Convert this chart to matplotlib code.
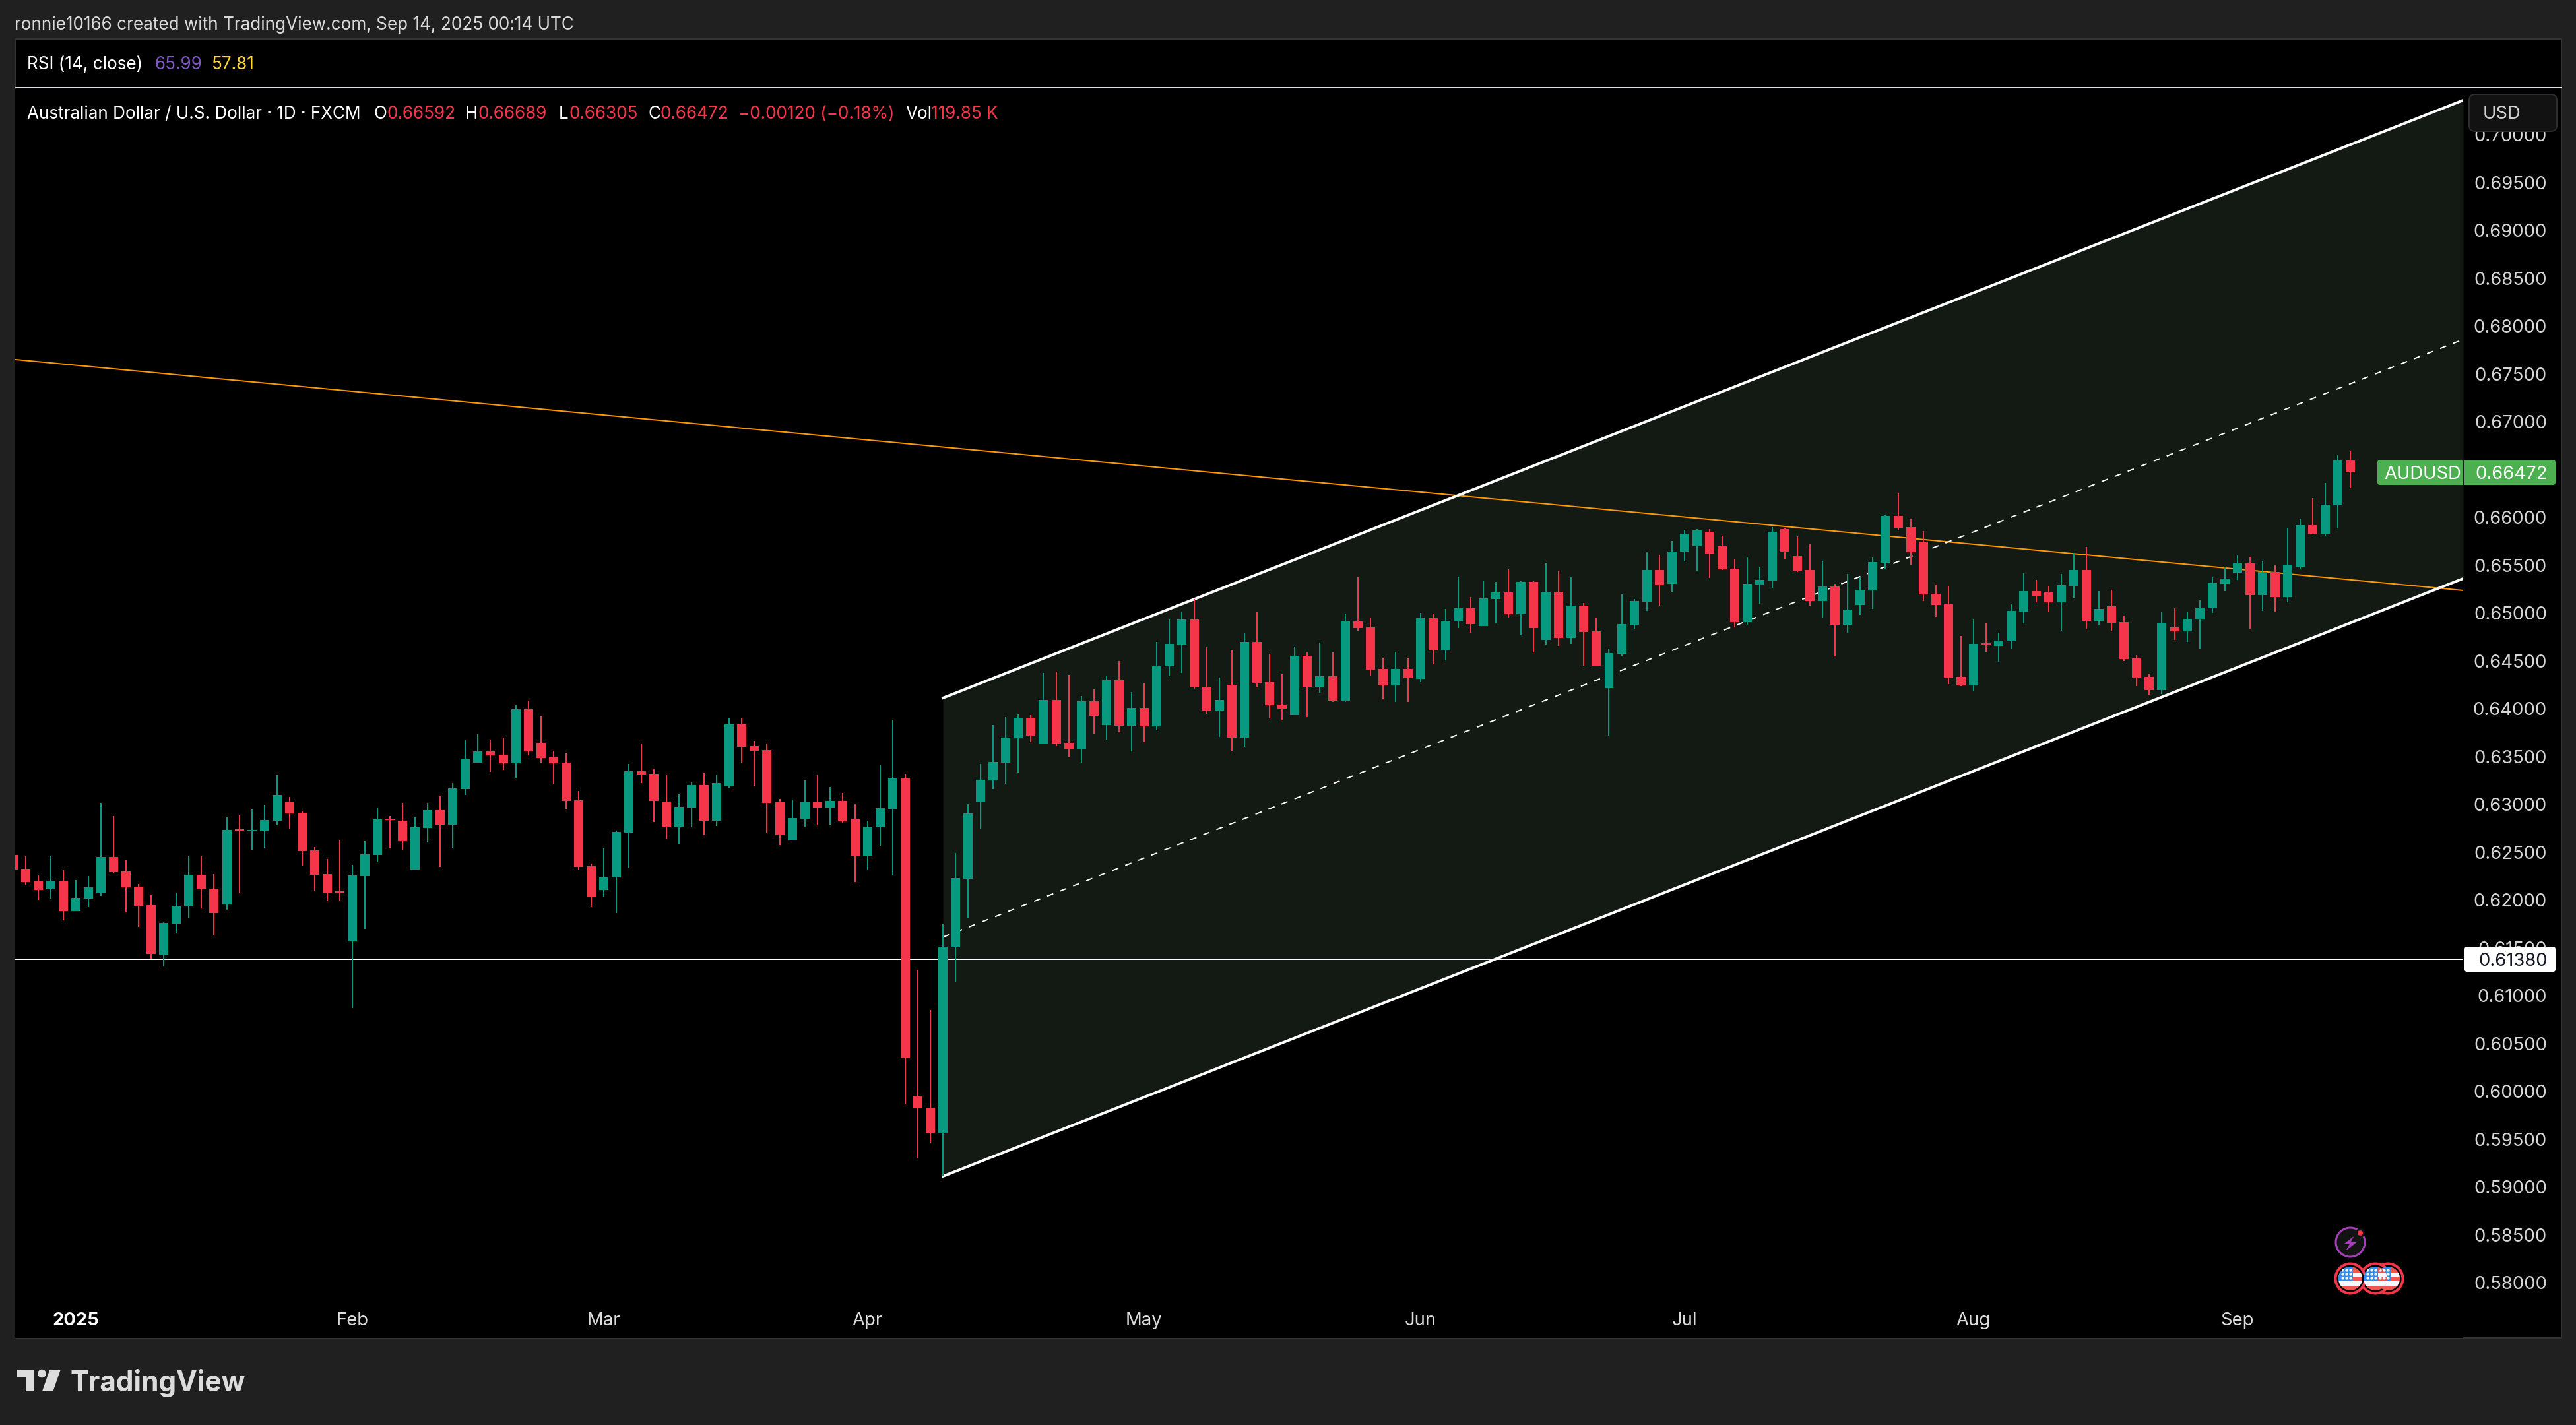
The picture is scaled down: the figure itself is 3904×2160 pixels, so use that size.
#!/usr/bin/env python3
"""AUDUSD daily candles with a rising channel, TradingView dark layout."""

import matplotlib
matplotlib.use("Agg")
import matplotlib.pyplot as plt
import numpy as np
from matplotlib.patches import Circle, FancyBboxPatch, Polygon, Rectangle

plt.rcParams["font.family"] = ["Inter", "DejaVu Sans"]

WIDTH, HEIGHT = 3904, 2160
DPI = 100
PX = 72 / DPI  # one pixel in points

# candle values, the first bar is cut off by the left edge
first_index = -1
highs = [
    .62470, .62458, .62256, .62463, .62313, .62209, .62251, .63014, .62877, .62416,
    .62167, .62056, .61768, .62071, .62463, .62458, .62271, .62864, .62884, .62953,
    .62995, .63305, .63079, .62933, .62554, .62428, .62623, .62367, .62615, .62968,
    .62877, .63014, .62872, .63014, .63091, .63221, .63677, .63734, .63677, .63699,
    .64037, .64083, .63918, .63561, .63532, .63140, .62382, .62539, .62719, .63423,
    .63635, .63374, .63305, .63113, .63229, .63332, .63313, .63906, .63906, .63665,
    .63635, .63056, .63049, .63251, .63305, .63182, .63118, .63002, .62830, .63409,
    .63884, .63320, .61271, .60850, .61745, .62491, .63002, .63424, .63828, .63912,
    .63938, .63932, .64373, .64387, .64353, .64132, .64201, .64346, .64498, .64173,
    .64270, .64698, .64932, .65015, .65146, .64642, .64325, .64608, .64787, .65008,
    .64573, .64360, .64649, .64587, .64691, .64587, .64994, .65374, .64953, .64532,
    .64594, .64525, .65001, .64994, .65043, .65381, .65167, .65339, .65325, .65456,
    .65332, .65332, .65518, .65436, .65374, .65105, .64953, .64629, .65194, .65146,
    .65636, .65608, .65750, .65870, .65880, .65880, .65810, .65560, .65581, .65477,
    .65900, .65890, .65800, .65720, .65546, .65305, .65408, .65374, .65581, .66029,
    .66250, .65988, .65857, .65298, .65284, .64760, .64933, .64898, .64795, .65091,
    .65415, .65346, .65284, .65408, .65629, .65691, .65229, .65243, .64974, .64560,
    .64367, .65008, .65050, .65008, .65133, .65374, .65484, .65602, .65588, .65546,
    .65498, .65891, .65988, .66202, .66360, .66650, .66689,
]
lows = [
    .62320, .62152, .62002, .62014, .61788, .61884, .61926, .62044, .62278, .61872,
    .61719, .61384, .61305, .61657, .61808, .61911, .61635, .61899, .62079, .62527,
    .62547, .62781, .62746, .62359, .62098, .61987, .61995, .60872, .61699, .62394,
    .62547, .62527, .62320, .62601, .62347, .62539, .63098, .63436, .63340, .63359,
    .63271, .63512, .63436, .63216, .62953, .62320, .61926, .62037, .61864, .62332,
    .63221, .62815, .62643, .62581, .62761, .62684, .62773, .63175, .63436, .63194,
    .62704, .62574, .62623, .62768, .62781, .62788, .62803, .62187, .62320, .62566,
    .62256, .59867, .59305, .59462, .59121, .61147, .61809, .62745, .63160, .63216,
    .63333, .63651, .63629, .63608, .63491, .63436, .63739, .63677, .63753, .63553,
    .63649, .63773, .64339, .64373, .64208, .63946, .63704, .63560, .63601, .64222,
    .63898, .63877, .63932, .63911, .64167, .64070, .64070, .64815, .64346, .64098,
    .64070, .64070, .64277, .64463, .64505, .64843, .64794, .64863, .64891, .64953,
    .64767, .64587, .64663, .64656, .64677, .64449, .64449, .63718, .64546, .64836,
    .65022, .65077, .65222, .65539, .65436, .65367, .65450, .64849, .64877, .65098,
    .65263, .65560, .65429, .65077, .64953, .64546, .64794, .64981, .65043, .65457,
    .65864, .65505, .65126, .64960, .64257, .64236, .64181, .64595, .64491, .64622,
    .64891, .65112, .65008, .64815, .65160, .64829, .64870, .64815, .64498, .64236,
    .64146, .64153, .64719, .64698, .64622, .65002, .65229, .65346, .64829, .65022,
    .65015, .65112, .65457, .65822, .65802, .65885, .66305,
]
opens = [
    .62470, .62325, .62194, .62113, .62202, .61884, .62014, .62071, .62450, .62298,
    .62140, .61946, .61428, .61753, .61933, .62263, .62118, .61953, .62739, .62721,
    .62719, .62830, .63029, .62911, .62519, .62271, .62091, .61566, .62251, .62470,
    .62849, .62830, .62320, .62753, .62941, .62788, .63160, .63436, .63554, .63519,
    .63428, .63995, .63643, .63492, .63436, .63044, .62354, .62106, .62236, .62704,
    .63347, .63320, .63029, .62768, .62968, .63202, .62830, .63187, .63837, .63608,
    .63566, .63022, .62623, .62849, .63022, .62968, .63037, .62842, .62463, .62761,
    .62953, .63277, .59954, .59830, .59559, .61505, .62224, .63022, .63250, .63437,
    .63691, .63905, .63629, .64091, .63642, .63573, .64077, .63829, .64298, .63822,
    .64008, .63815, .64442, .64670, .64932, .64229, .63980, .64249, .63698, .64698,
    .64277, .64042, .63932, .64553, .64229, .64339, .64084, .64911, .64849, .64415,
    .64242, .64415, .64311, .64946, .64608, .64912, .65049, .64863, .65146, .65215,
    .64987, .65325, .64718, .65222, .64739, .65077, .64808, .64215, .64574, .64877,
    .65118, .65450, .65305, .65640, .65700, .65850, .65700, .65463, .64905, .65298,
    .65339, .65880, .65594, .65450, .65125, .65277, .64877, .65084, .65236, .65526,
    .66015, .65898, .65746, .65202, .65091, .64332, .64243, .64684, .64657, .64705,
    .65015, .65229, .65215, .65112, .65284, .65450, .64919, .65070, .64905, .64526,
    .64332, .64195, .64850, .64808, .64933, .65050, .65305, .65422, .65519, .65188,
    .65429, .65167, .65484, .65919, .65829, .66126, .66592,
]
closes = [
    .62320, .62187, .62106, .62202, .61884, .62022, .62133, .62450, .62290, .62133,
    .61941, .61436, .61761, .61941, .62263, .62113, .61864, .62734, .62726, .62734,
    .62837, .63098, .62906, .62512, .62263, .62079, .62079, .62256, .62478, .62842,
    .62837, .62615, .62761, .62941, .62788, .63167, .63478, .63554, .63512, .63428,
    .63995, .63554, .63485, .63428, .63037, .62347, .62029, .62244, .62712, .63347,
    .63313, .63037, .62768, .62975, .63202, .62830, .63221, .63837, .63601, .63561,
    .63014, .62677, .62857, .63022, .62968, .63037, .62822, .62463, .62768, .62960,
    .63278, .60348, .59823, .59559, .61511, .62230, .62905, .63257, .63444, .63698,
    .63905, .63718, .64091, .63636, .63573, .64077, .63925, .64298, .63822, .64008,
    .63815, .64442, .64677, .64932, .64222, .63980, .64091, .63698, .64698, .64270,
    .64036, .64001, .64553, .64229, .64339, .64084, .64911, .64842, .64408, .64242,
    .64415, .64318, .64946, .64608, .64918, .65049, .64884, .65153, .65215, .64987,
    .65325, .64843, .65222, .64739, .65077, .64801, .64449, .64580, .64884, .65125,
    .65450, .65291, .65640, .65830, .65860, .65620, .65456, .64905, .65305, .65346,
    .65850, .65640, .65443, .65125, .65277, .64877, .65036, .65243, .65532, .66015,
    .65891, .65636, .65195, .65084, .64326, .64243, .64677, .64670, .64712, .65022,
    .65229, .65174, .65112, .65291, .65450, .64919, .65043, .64898, .64519, .64326,
    .64195, .64898, .64808, .64939, .65057, .65312, .65360, .65519, .65188, .65429,
    .65167, .65505, .65919, .65829, .66133, .66592, .66472,
]

# x axis: bar index, limits and month labels
x_limits = [-0.83, 193.97]
y_limits = [0.57422, 0.70477]
month_ticks = [4, 26, 46, 67, 89, 111, 132, 155, 176]
month_labels = ["2025", "Feb", "Mar", "Apr", "May", "Jun", "Jul", "Aug", "Sep"]
price_ticks = [0.58 + 0.005 * n for n in range(25)]

# drawings
channel_x = [73, x_limits[1]]
channel_upper = [0.64112, 0.70360]
channel_middle = [0.61612, 0.67860]
channel_lower = [0.59112, 0.65360]
trend_x = x_limits
trend_y = [0.67650, 0.65236]
support_level = 0.6138
last_close = closes[-1]

GREEN = "#089981"
RED = "#f5364a"
WHITE = "#ffffff"
CHANNEL_FILL = "#121a13"
ORANGE = "#ff9800"
PANEL = "#202020"
TICK_TEXT = "#d6d6d6"
FONT = 19.8
HEADER_FONT = 18.8


def pixel_axes(fig, zorder):
    """Full-figure axes addressed in image pixels."""
    ax = fig.add_axes([0, 0, 1, 1], zorder=zorder)
    ax.set_xlim(0, WIDTH)
    ax.set_ylim(HEIGHT, 0)
    ax.axis("off")
    ax.patch.set_alpha(0)
    return ax


def draw_candles(ax):
    x = np.arange(first_index, first_index + len(closes))
    o, h, l, c = map(np.array, (opens, highs, lows, closes))
    colors = np.where(c >= o, GREEN, RED)
    ax.vlines(x, l, h, colors=colors, linewidth=2 * PX, zorder=5)
    ax.bar(x, np.abs(c - o), bottom=np.minimum(o, c), width=0.735, color=colors,
           linewidth=0, zorder=6)


def draw_channel(ax):
    ax.fill_between(channel_x, channel_lower, channel_upper, color=CHANNEL_FILL,
                    linewidth=0, zorder=1)
    ax.plot(trend_x, trend_y, color=ORANGE, linewidth=2 * PX, zorder=2)
    ax.axhline(support_level, color=WHITE, linewidth=2 * PX, zorder=2)
    ax.plot(channel_x, channel_middle, color=WHITE, linewidth=2 * PX,
            linestyle=(0, (5, 5.6)), zorder=3)
    ax.plot(channel_x, channel_upper, color=WHITE, linewidth=4 * PX, zorder=3)
    ax.plot(channel_x, channel_lower, color=WHITE, linewidth=4 * PX, zorder=3)


def draw_main(fig):
    left, right, top, bottom = 23, 3733, 135, 2028
    ax = fig.add_axes([left / WIDTH, 1 - bottom / HEIGHT, (right - left) / WIDTH,
                       (bottom - top) / HEIGHT], zorder=1)
    ax.set_facecolor("black")
    for spine in ax.spines.values():
        spine.set_visible(False)
    ax.set_xlim(x_limits)
    ax.set_ylim(y_limits)

    draw_channel(ax)
    draw_candles(ax)

    ax.yaxis.tick_right()
    ax.set_yticks(price_ticks)
    ax.set_yticklabels([f"{p:.5f}" for p in price_ticks], ha="right", va="center_baseline",
                       color=TICK_TEXT, fontsize=FONT)
    ax.tick_params(axis="y", length=0, pad=127 * PX)
    ax.set_xticks(month_ticks)
    ax.set_xticklabels(month_labels, color="#dcdcdc", fontsize=FONT, va="center_baseline")
    ax.tick_params(axis="x", length=0, pad=-29 * PX)
    first = ax.get_xticklabels()[0]
    first.set_fontweight("bold")
    first.set_color(WHITE)
    return ax


def price_tag(ax, x0, x1, y0, y1, color):
    ax.add_patch(FancyBboxPatch((x0 + 3, y0 + 3), x1 - x0 - 6, y1 - y0 - 6,
                                boxstyle="round,pad=3,rounding_size=4",
                                facecolor=color, edgecolor="none", zorder=3))


def draw_header(ax):
    ax.text(22, 35, "ronnie10166 created with TradingView.com, Sep 14, 2025 00:14 UTC",
            color="#d9d9d9", fontsize=HEADER_FONT, va="center_baseline")
    ax.text(41, 95, "RSI (14, close)", color=WHITE, fontsize=HEADER_FONT, va="center_baseline")
    ax.text(234, 95, "65.99", color="#7e57c2", fontsize=HEADER_FONT, va="center_baseline")
    ax.text(321, 95, "57.81", color="#fdd835", fontsize=HEADER_FONT, va="center_baseline")
    pieces = [
        (41, "Australian Dollar / U.S. Dollar · 1D · FXCM", WHITE),
        (566, "O", WHITE), (586, "0.66592", RED),
        (705, "H", WHITE), (725, "0.66689", RED),
        (847, "L", WHITE), (862, "0.66305", RED),
        (982, "C", WHITE), (1001, "0.66472", RED),
        (1119, "−0.00120 (−0.18%)", RED),
        (1372, "Vol", WHITE), (1411, "119.85 K", RED),
    ]
    for x, text, color in pieces:
        ax.text(x, 170, text, color=color, fontsize=HEADER_FONT, va="center_baseline")


def draw_flag(ax, cx, cy):
    ax.add_patch(Circle((cx, cy), 22.5, facecolor="black", edgecolor=RED,
                        linewidth=4 * PX, zorder=4))
    clip = Circle((cx, cy), 18, transform=ax.transData)
    parts = [Rectangle((cx - 18, cy - 18), 36, 36, facecolor="#f0584f", zorder=5)]
    for y in (-9, 4):
        parts.append(Rectangle((cx - 18, cy + y), 36, 6.5, facecolor="#f5f7fc", zorder=5))
    parts.append(Rectangle((cx - 18, cy - 18), 22, 21, facecolor="#2f8df0", zorder=5))
    for part in parts:
        ax.add_patch(part)
        part.set_clip_path(clip)
    sx = [cx + dx for dx in (-12, -6, 0) for _ in range(3)]
    sy = [cy + dy for _ in range(3) for dy in (-13, -7, -1)]
    dots = ax.scatter(sx, sy, s=9, color=WHITE, linewidths=0, zorder=6)
    dots.set_clip_path(clip)


def draw_events(ax):
    ax.add_patch(Circle((3562, 1883), 22, facecolor="#131313", edgecolor="#a53fb8",
                        linewidth=3 * PX, zorder=4))
    bolt = np.array([(502, 282), (459, 315), (482, 318), (466, 347), (514, 310), (489, 306)])
    ax.add_patch(Polygon(np.c_[3400 + bolt[:, 0] / 3, 1780 + bolt[:, 1] / 3],
                         facecolor="#a53fb8", edgecolor="none", zorder=5))
    ax.add_patch(Circle((3577, 1869), 5.5, facecolor=RED, edgecolor="#131313",
                        linewidth=3 * PX, zorder=5))
    for cx in (3619, 3600, 3562):
        draw_flag(ax, cx, 1938)


def draw_logo(ax):
    ink = "#dcdcdc"
    ax.add_patch(Polygon([(26, 2076), (51.7, 2076), (51.7, 2109), (39, 2109), (39, 2087.7),
                          (26, 2087.7)], facecolor=ink, edgecolor="none"))
    ax.add_patch(Circle((63.5, 2082), 6.3, facecolor=ink, edgecolor="none"))
    ax.add_patch(Polygon([(75.4, 2076), (91.8, 2076), (80.4, 2109), (63.9, 2109)],
                         facecolor=ink, edgecolor="none"))
    ax.text(107, 2109, "TradingView", color=ink, fontsize=30.5, fontweight="bold",
            va="baseline")


def main():
    fig = plt.figure(figsize=(WIDTH / DPI, HEIGHT / DPI), dpi=DPI, facecolor=PANEL)

    back = pixel_axes(fig, 0)
    back.add_patch(Rectangle((23, 59), 3859, 1969, facecolor="black", edgecolor="#333333",
                             linewidth=2 * PX))

    draw_main(fig)

    top = pixel_axes(fig, 2)
    top.plot([23, 3882], [133, 133], color="#dcdce0", linewidth=2 * PX)
    draw_header(top)

    # currency box over the top of the price scale
    top.add_patch(FancyBboxPatch((3748, 149), 121, 44, boxstyle="round,pad=6,rounding_size=9",
                                 facecolor="#121212", edgecolor="#2e2e2e", linewidth=2 * PX,
                                 zorder=3))
    top.text(3763, 170, "USD", color="#d1d1d1", fontsize=FONT, va="center_baseline", zorder=4)

    # last price tag, split by the scale border
    close_y = 716
    price_tag(top, 3603, 3873, close_y - 19, close_y + 19, "#4caf50")
    top.plot([3734, 3734], [close_y - 19, close_y + 19], color=CHANNEL_FILL, linewidth=2 * PX, zorder=4)
    top.text(3613, close_y, "AUDUSD", color=WHITE, fontsize=FONT, va="center_baseline", zorder=5)
    top.text(3861, close_y, f"{last_close:.5f}", color=WHITE, fontsize=FONT, ha="right",
             va="center_baseline", zorder=5)

    # support level tag
    price_tag(top, 3735, 3873, 1435, 1473, WHITE)
    top.text(3861, 1454, f"{support_level:.5f}", color="#131722", fontsize=FONT, ha="right",
             va="center_baseline", zorder=5)

    draw_events(top)
    draw_logo(top)

    fig.savefig("out.png", dpi=DPI, facecolor=PANEL)
    plt.close(fig)


if __name__ == "__main__":
    main()
